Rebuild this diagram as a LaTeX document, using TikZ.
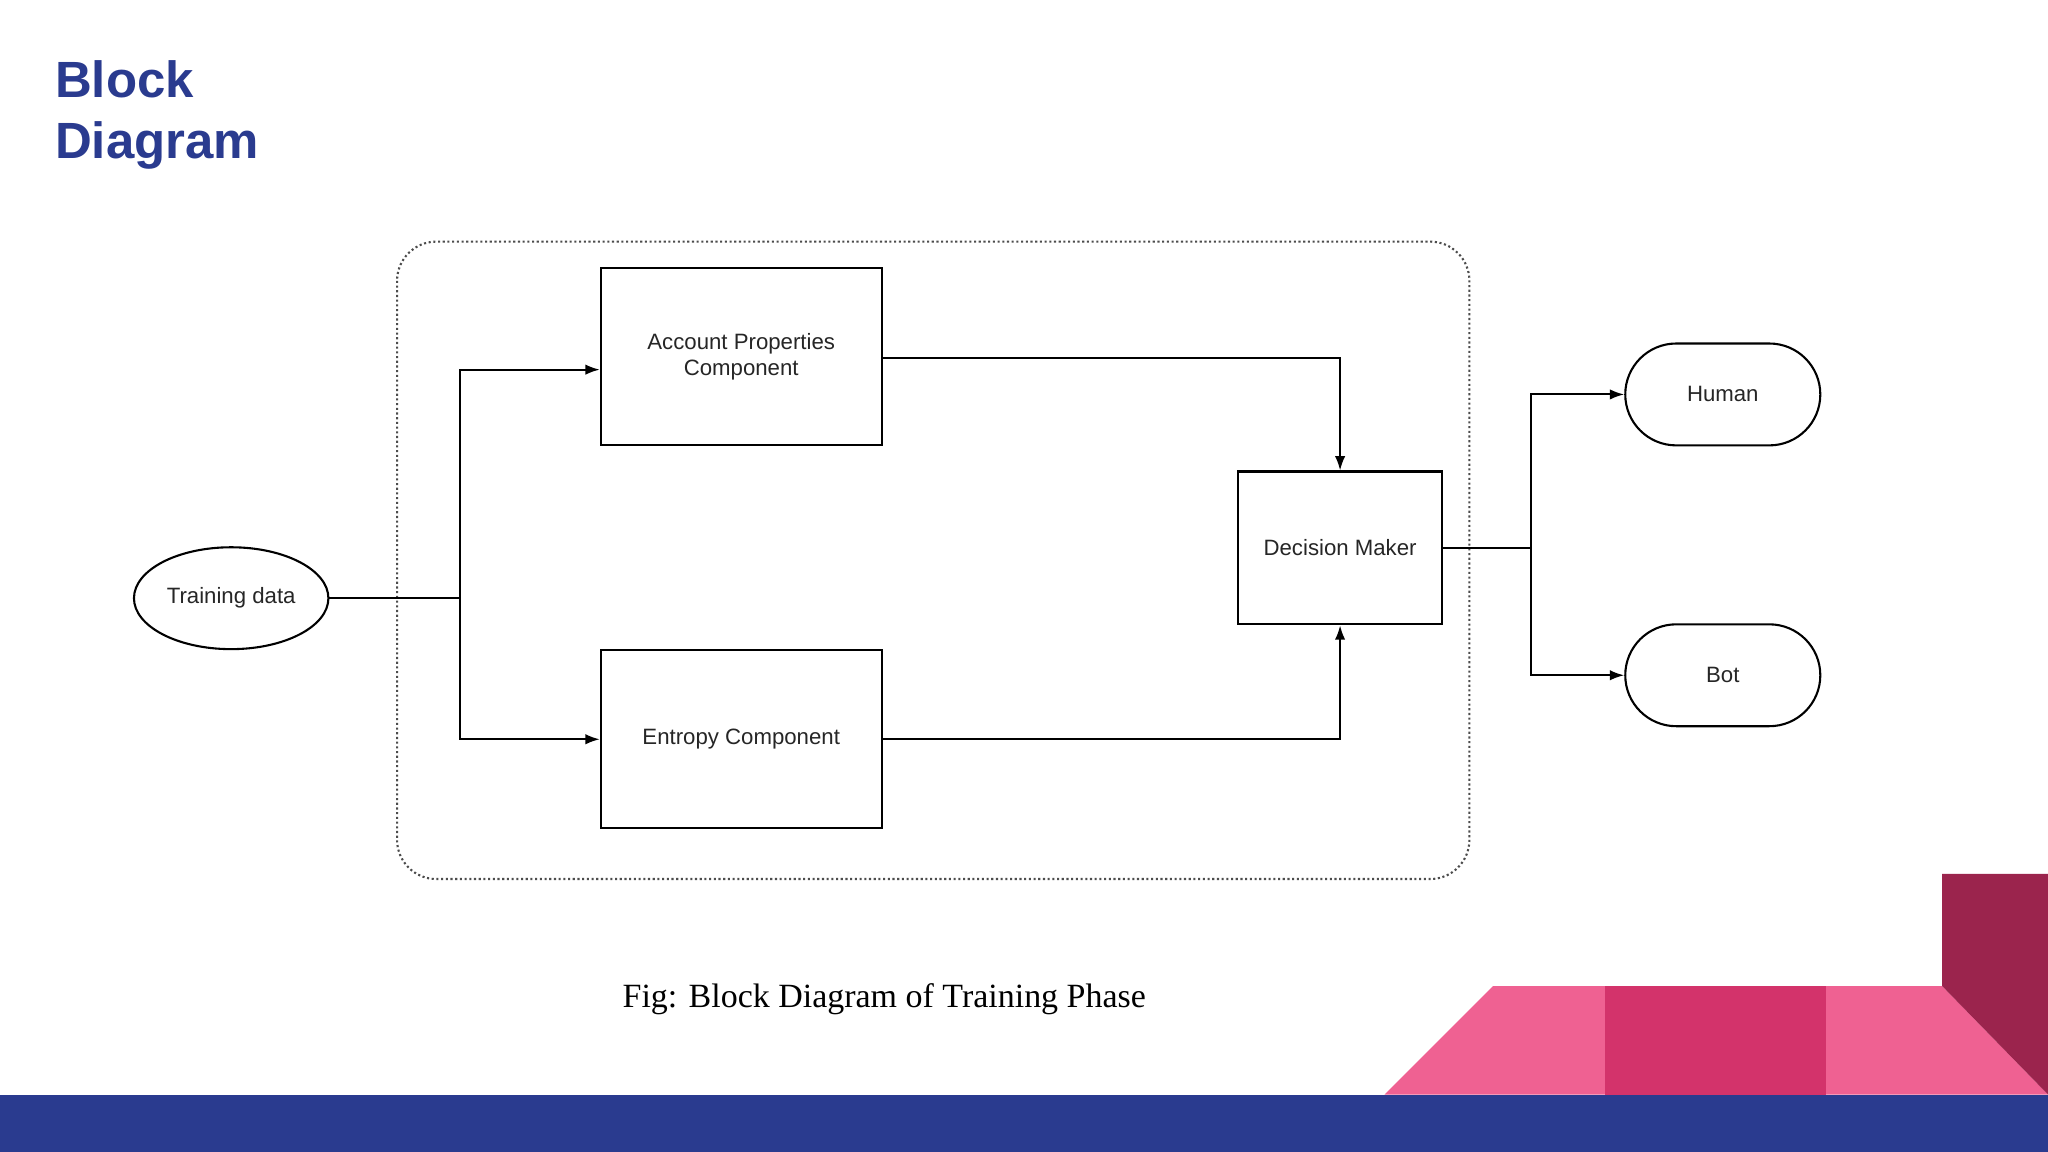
\documentclass[tikz,border=0pt]{standalone}
\usepackage{fontspec}
\setmainfont{Liberation Sans}
\newfontfamily\capfont{Liberation Serif}
\usetikzlibrary{arrows.meta,shapes.misc,shapes.geometric}
\definecolor{navy}{HTML}{2A3B8F}
\definecolor{pinkA}{HTML}{EF6192}
\definecolor{pinkB}{HTML}{D3336B}
\definecolor{maroon}{HTML}{9B244D}
\begin{document}
\begin{tikzpicture}[x=1pt,y=-1pt,
  blk/.style={draw,line width=1.6pt,minimum width=215pt,minimum height=136pt,align=center,font=\fontsize{17}{20}\selectfont,text=black!85},
  pill/.style={draw,line width=1.6pt,rounded rectangle,minimum width=156pt,minimum height=78pt,font=\fontsize{17}{20}\selectfont,text=black!85},
  conn/.style={line width=1.5pt},
  arr/.style={conn,-{Latex[length=11pt,width=8pt]}}]
\useasboundingbox (0,0) rectangle (1568,882);
\fill[white] (0,0) rectangle (1568,882);
% decoration
\fill[navy] (0,838) rectangle (1568,882);
\fill[pinkA] (1060,838) -- (1143,755) -- (1487,755) -- (1568,838) -- cycle;
\fill[pinkB] (1229,755) rectangle (1398,838);
\fill[maroon] (1487,669) -- (1568,669) -- (1568,838) -- (1487,755) -- cycle;
% title
\node[anchor=north west,align=left,text=navy,font=\fontsize{39}{47}\selectfont\bfseries,inner sep=0] (title) at (42,46) {Block\\Diagram};
% group
\draw[dotted,line width=1.6pt,black!70,rounded corners=30pt] (304,185) rectangle (1125,673);
% nodes
\node[blk] (acc) at (567.5,273) {Account Properties\\Component};
\node[blk] (ent) at (567.5,566) {Entropy Component};
\node[blk,minimum width=156pt,minimum height=117pt] (dec) at (1026,419.5) {Decision Maker};
\node[draw,ellipse,line width=1.6pt,minimum width=136pt,minimum height=78pt,font=\fontsize{17}{20}\selectfont,text=black!85] (td) at (177,458) {Training data};
\node[pill] (hum) at (1319,302) {Human};
\node[pill] (bot) at (1319,517) {Bot};
\coordinate (j1) at (352,458);
\coordinate (j2) at (1172,419.5);
% connectors
\draw[conn] (td.east) -- (j1);
\draw[arr] (j1) |- ([yshift=-10pt]acc.west);
\draw[arr] (j1) |- (ent.west);
\draw[arr] ([yshift=-1pt]acc.east) -| (dec.north);
\draw[arr] (ent.east) -| (dec.south);
\draw[conn] (dec.east) -- (j2);
\draw[arr] (j2) |- (hum.west);
\draw[arr] (j2) |- (bot.west);
% caption
\node[font=\capfont\fontsize{26}{30}\selectfont] (cap) at (677,765) {Fig: Block Diagram of Training Phase};
\end{tikzpicture}
\end{document}
